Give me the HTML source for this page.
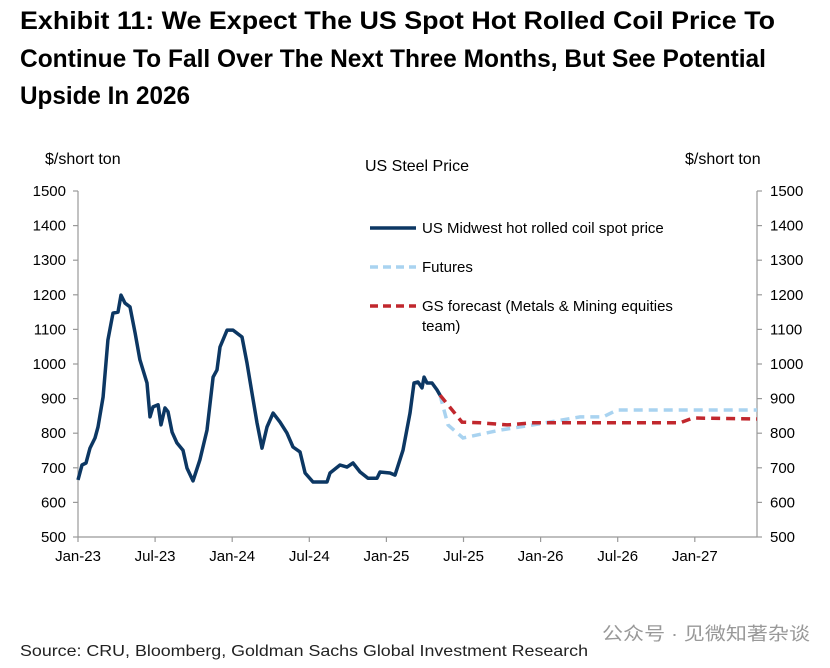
<!DOCTYPE html>
<html><head><meta charset="utf-8"><style>
body{margin:0;background:#fff}
svg{display:block;font-family:"Liberation Sans","Noto Sans CJK SC",sans-serif}
</style></head><body>
<svg id="chart" width="830" height="668" viewBox="0 0 830 668">
<g font-weight="bold" font-size="25" fill="#000">
<text x="20" y="29" textLength="755" lengthAdjust="spacingAndGlyphs">Exhibit 11: We Expect The US Spot Hot Rolled Coil Price To</text>
<text x="20" y="67" textLength="746" lengthAdjust="spacingAndGlyphs">Continue To Fall Over The Next Three Months, But See Potential</text>
<text x="20" y="104" textLength="170" lengthAdjust="spacingAndGlyphs">Upside In 2026</text>
</g>
<text x="45" y="164" font-size="16">$/short ton</text>
<text x="685" y="164" font-size="16">$/short ton</text>
<text x="417" y="171" font-size="16" text-anchor="middle">US Steel Price</text>
<g id="axes"></g>
<g id="series"></g>
<g font-size="15">
<line x1="370" y1="228" x2="416" y2="228" stroke="#0c3763" stroke-width="3.5"/>
<text x="422" y="233">US Midwest hot rolled coil spot price</text>
<line x1="370" y1="267" x2="416" y2="267" stroke="#a9d3f0" stroke-width="3.5" stroke-dasharray="8,5"/>
<text x="422" y="272">Futures</text>
<line x1="370" y1="306" x2="416" y2="306" stroke="#c1272d" stroke-width="3.5" stroke-dasharray="8,5"/>
<text x="422" y="311">GS forecast (Metals &amp; Mining equities</text>
<text x="422" y="331">team)</text>
</g>
<text x="20" y="656" font-size="16" fill="#222" textLength="568" lengthAdjust="spacingAndGlyphs">Source: CRU, Bloomberg, Goldman Sachs Global Investment Research</text>
<text x="602" y="640" font-size="18" fill="#999" textLength="208" lengthAdjust="spacingAndGlyphs">公众号 · 见微知著杂谈</text>
</svg>
<script>
const yTicks=[500,600,700,800,900,1000,1100,1200,1300,1400,1500];
const xTickLabels=["Jan-23","Jul-23","Jan-24","Jul-24","Jan-25","Jul-25","Jan-26","Jul-26","Jan-27"];
const xTickMonths=[0,6,12,18,24,30,36,42,48];
const spotMonths=[0,0.31,0.62,0.93,1.32,1.56,1.95,2.33,2.72,3.11,3.35,3.66,4.05,4.44,4.82,5.37,5.6,5.84,6.23,6.46,6.77,7.0,7.32,7.7,8.17,8.48,8.95,9.49,10.04,10.51,10.82,11.05,11.6,12.06,12.76,13.15,13.54,13.93,14.32,14.71,15.18,15.72,16.26,16.73,17.28,17.67,18.29,19.38,19.61,20.39,20.93,21.4,21.95,22.57,23.27,23.5,24.28,24.67,25.29,25.84,26.15,26.46,26.77,26.93,27.16,27.55,27.94,28.17];
const spotValues=[665,708,714,757,786,818,905,1069,1147,1150,1199,1176,1165,1090,1012,945,847,876,882,824,873,862,803,772,751,699,662,723,809,962,983,1049,1098,1098,1078,1003,916,830,757,818,858,832,801,760,746,685,659,659,685,708,702,714,688,670,670,688,685,679,751,858,945,948,931,962,945,945,925,910];
const futuresMonths=[28.17,28.79,29.96,32.84,35.41,39.07,40.86,41.95,52.84];
const futuresValues=[910,824,786,809,824,847,847,867,867];
const gsMonths=[28.17,29.88,31.28,33.39,35.41,46.85,47.86,52.84];
const gsValues=[910,832,830,824,830,830,844,841];

const X0=78,X1=757,Y0=537,Y1=191,MMAX=52.84;
const xs=m=>X0+m*(X1-X0)/MMAX;
const ys=v=>Y0-(v-500)*(Y0-Y1)/1000;
const NS="http://www.w3.org/2000/svg";
function mk(tag,attrs,parent){const e=document.createElementNS(NS,tag);for(const k in attrs)e.setAttribute(k,attrs[k]);parent.appendChild(e);return e;}
const axes=document.getElementById('axes');
const ax={stroke:"#999","stroke-width":1.2};
const la=mk('line',{x1:X0,y1:Y1,x2:X0,y2:Y0,...ax},axes);


const ra=mk('line',{x1:X1,y1:Y1,x2:X1,y2:Y0,...ax},axes);


const xa=mk('line',{x1:X0,y1:Y0,x2:X1,y2:Y0,...ax},axes);


yTicks.forEach(v=>{
  const y=ys(v);
  mk('line',{x1:X0-5,y1:y,x2:X0,y2:y,...ax},axes);
  mk('line',{x1:X1,y1:y,x2:X1+5,y2:y,...ax},axes);
  const t1=mk('text',{x:66,y:y+5,"font-size":15,"text-anchor":"end"},axes);t1.textContent=v;
  
  
  const t2=mk('text',{x:770,y:y+5,"font-size":15},axes);t2.textContent=v;
  
  
});
xTickMonths.forEach((m,i)=>{
  const x=xs(m);
  mk('line',{x1:x,y1:Y0,x2:x,y2:Y0+5,...ax},axes);
  const t=mk('text',{x:x,y:Y0+24,"font-size":15,"text-anchor":"middle"},axes);t.textContent=xTickLabels[i];
  
  
});
const ser=document.getElementById('series');
function pts(ms,vs){return ms.map((m,i)=>xs(m).toFixed(1)+","+ys(vs[i]).toFixed(1)).join(" ");}
const f=mk('polyline',{points:pts(futuresMonths,futuresValues),fill:"none",stroke:"#a9d3f0","stroke-width":3.5,"stroke-dasharray":"9,6"},ser);


const g=mk('polyline',{points:pts(gsMonths,gsValues),fill:"none",stroke:"#c1272d","stroke-width":3.5,"stroke-dasharray":"9,6"},ser);


const s=mk('polyline',{points:pts(spotMonths,spotValues),fill:"none",stroke:"#0c3763","stroke-width":3.5,"stroke-linejoin":"round"},ser);


</script>
</body></html>
